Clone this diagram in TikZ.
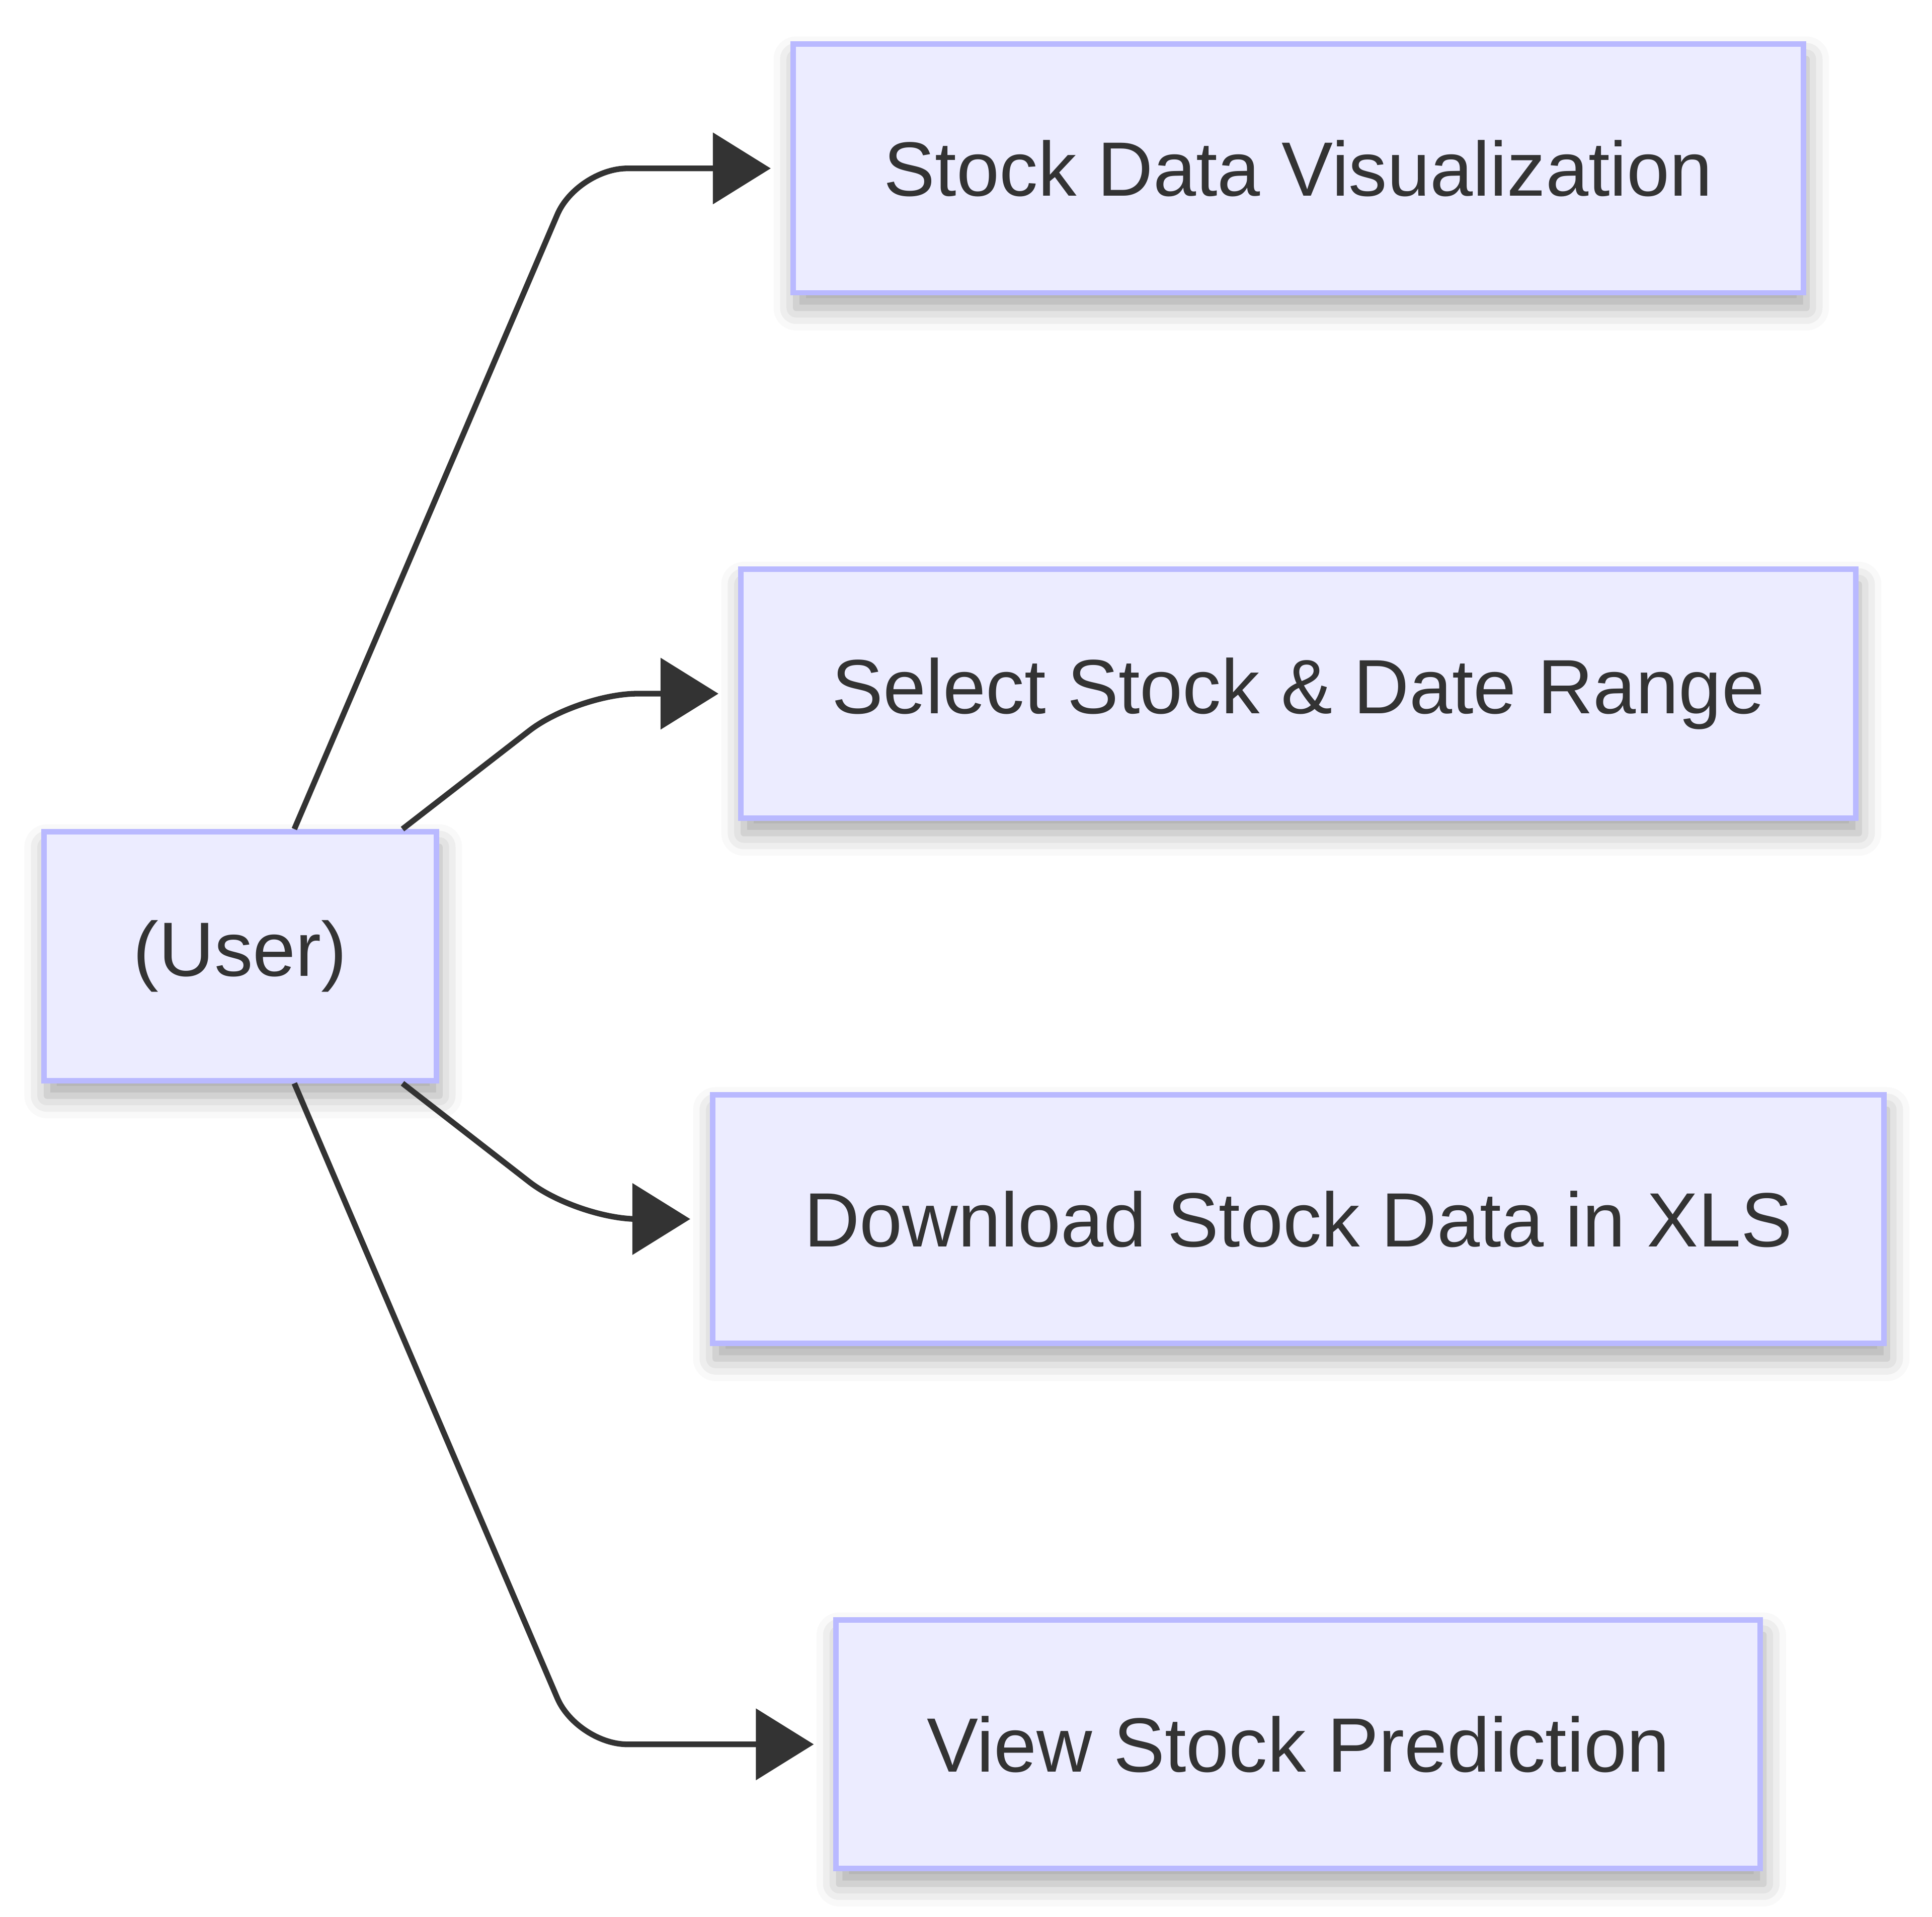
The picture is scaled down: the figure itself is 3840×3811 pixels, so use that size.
\documentclass[tikz,border=0pt]{standalone}
\usepackage{fontspec}
\setmainfont{Liberation Sans}
\usetikzlibrary{positioning}
\usetikzlibrary{arrows.meta}
\usetikzlibrary{shadows.blur}
\definecolor{boxfill}{HTML}{ECECFF}
\definecolor{boxline}{RGB}{185,185,255}
\definecolor{inkgray}{HTML}{333333}
\tikzset{
        boxnode/.style={rectangle, align=center, inner sep=0pt, fill=boxfill, draw=boxline, line width=1.1pt,
                text=inkgray, font=\fontsize{15.3}{18}\selectfont, minimum height=49.45pt,
                blur shadow={shadow xshift=0.6pt, shadow yshift=-3pt, shadow blur radius=4.5pt, shadow opacity=35}},
        % The actor on the left
        node_user/.style={boxnode, minimum width=78pt},
        % Actions the user can take
        node_action/.style={boxnode},
        % Connectors
        flow_arrow/.style={draw=inkgray, line width=1.13pt, rounded corners=10pt, shorten >=3.9pt,
                -{Triangle[length=11.5pt, width=14pt]}}
}
\begin{document}
\begin{tikzpicture}[x=0.1pt, y=-0.1pt]
            \useasboundingbox (0,0) rectangle (3840,3811);
            \node[node_user] (user) at (477.4,1900.9) {(User)};
            \node[node_action, minimum width=200.8pt] (visual) at (2580.4,334.75) {Stock Data Visualization};
            \node[node_action, minimum width=221.6pt] (select) at (2580.4,1379) {Select Stock \& Date Range};
            \node[node_action, minimum width=232.8pt] (download) at (2580.4,2423.4) {Download Stock Data in XLS};
            \node[node_action, minimum width=183.7pt] (predict) at (2580.4,3467.7) {View Stock Prediction};
            % bends of the connectors
            \coordinate (bend) at (1147,0);
            \draw[flow_arrow] ([xshift=10.76pt]user.north) -- (bend |- visual.west) -- (visual.west);
            \draw[flow_arrow, rounded corners=12pt] ([xshift=32.26pt]user.north) -- (bend |- select.west) -- (select.west);
            \draw[flow_arrow, rounded corners=12pt] ([xshift=32.26pt]user.south) -- (bend |- download.west) -- (download.west);
            \draw[flow_arrow] ([xshift=10.76pt]user.south) -- (bend |- predict.west) -- (predict.west);
        \end{tikzpicture}
\end{document}
